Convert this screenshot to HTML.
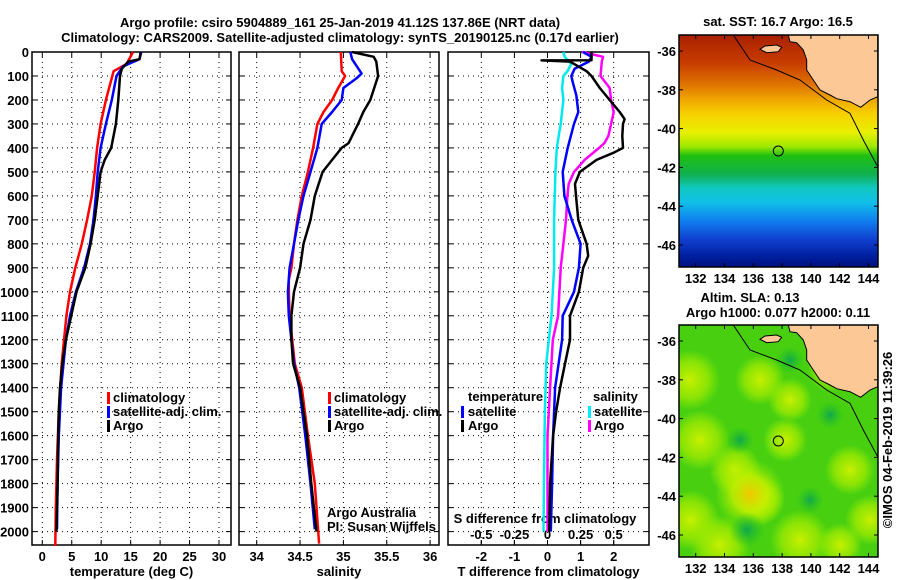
<!DOCTYPE html>
<html><head><meta charset="utf-8"><style>
html,body{margin:0;padding:0;background:#fff;}
svg{display:block;font-family:"Liberation Sans",sans-serif;}
.b{font-weight:bold;font-size:13px;}
</style></head><body>
<svg id="chart" width="900" height="580" viewBox="0 0 900 580">
<defs>
<linearGradient id="sstg" x1="0" y1="0" x2="0" y2="1">
<stop offset="0" stop-color="#a82000"/><stop offset="0.12" stop-color="#c83c00"/>
<stop offset="0.22" stop-color="#e07800"/><stop offset="0.28" stop-color="#f0a800"/>
<stop offset="0.34" stop-color="#f8d000"/><stop offset="0.42" stop-color="#e8f000"/>
<stop offset="0.48" stop-color="#a0e800"/><stop offset="0.52" stop-color="#20c010"/>
<stop offset="0.6" stop-color="#10b050"/><stop offset="0.66" stop-color="#10c8c0"/>
<stop offset="0.72" stop-color="#10c0e8"/><stop offset="0.8" stop-color="#1080f0"/>
<stop offset="0.88" stop-color="#1040d0"/><stop offset="0.95" stop-color="#0020a0"/>
<stop offset="1" stop-color="#001080"/></linearGradient>
<radialGradient id="yb"><stop offset="0" stop-color="#f0c800"/><stop offset="0.5" stop-color="#c8f000" stop-opacity="0.8"/><stop offset="1" stop-color="#a0f000" stop-opacity="0"/></radialGradient>
<radialGradient id="yb2"><stop offset="0" stop-color="#c8f000"/><stop offset="0.6" stop-color="#a8ec00" stop-opacity="0.7"/><stop offset="1" stop-color="#a0f000" stop-opacity="0"/></radialGradient>
<radialGradient id="gb"><stop offset="0" stop-color="#10a850"/><stop offset="1" stop-color="#20c020" stop-opacity="0"/></radialGradient>
</defs>
<text class="b" x="340" y="27" text-anchor="middle" font-size="14">Argo profile: csiro 5904889_161 25-Jan-2019 41.12S 137.86E (NRT data)</text>
<text class="b" x="340" y="42" text-anchor="middle" font-size="14">Climatology: CARS2009. Satellite-adjusted climatology: synTS_20190125.nc (0.17d earlier)</text>
<g id="panels"></g>
<g id="maps"></g>
</svg>
<script>
// ---- data ----
const depthTa=[0,30,40,70,100,200,300,400,450,500,600,700,800,900,1000,1100,1200,1300,1400,1500,1600,1800,2000];
const tempArgo=[16.7,16.5,14.6,13.5,13.2,12.9,12.5,11.7,10.6,9.9,9.4,8.9,8.2,7.3,5.8,4.9,4.0,3.4,3.0,2.8,2.7,2.6,2.4];
const depthTc=[0,50,80,200,300,400,500,600,700,800,900,1000,1100,1300,1500,1700,1900,2060];
const tempClim=[15.4,14.3,12.1,10.8,9.9,9.3,8.9,8.4,7.6,6.7,5.6,4.7,4.1,3.3,2.8,2.5,2.3,2.2];
const depthTs=[0,30,60,100,200,300,400,500,600,700,800,900,1000,1100,1200,1400,1600,1800,1990];
const tempSat=[16.8,16.5,13.7,12.6,11.8,10.8,9.9,9.4,9.1,8.7,8.1,7.1,5.7,4.7,4.0,3.2,2.8,2.6,2.5];
const depthSa=[0,20,40,100,200,250,300,350,380,400,450,500,600,700,800,900,1000,1100,1200,1300,1400,1600,1800,2000];
const salArgo=[35.1,35.35,35.38,35.4,35.31,35.23,35.17,35.1,35.06,34.98,34.87,34.76,34.67,34.62,34.54,34.5,34.43,34.4,34.4,34.42,34.5,34.58,34.63,34.69];
const depthSc=[0,80,100,150,200,250,300,400,500,600,700,800,900,950,1000,1100,1200,1300,1400,1600,1800,2050];
const salClim=[34.97,34.98,35.02,34.94,34.87,34.77,34.7,34.65,34.59,34.52,34.47,34.43,34.4,34.37,34.37,34.38,34.41,34.44,34.52,34.59,34.67,34.72];
const depthSs=[0,30,90,110,150,200,250,300,400,500,600,700,800,900,1000,1100,1200,1300,1400,1600,1800,1990];
const salSat=[35.08,35.1,35.21,35.15,35.0,34.98,34.87,34.75,34.7,34.62,34.54,34.48,34.43,34.38,34.36,34.37,34.4,34.43,34.49,34.56,34.62,34.67];
const depthDa=[0,34,35,40,80,100,150,200,250,280,300,350,400,420,450,500,550,600,700,800,850,900,1000,1100,1200,1300,1400,1500,1600,1800,2000];
const tdiffArgo=[1.33,1.33,-0.18,0.68,1.18,1.33,1.58,1.88,2.18,2.33,2.28,2.26,2.28,2.0,1.48,0.98,0.83,0.86,0.93,1.18,1.23,1.08,0.95,0.68,0.68,0.53,0.38,0.26,0.17,0.08,0.05];
const depthDs=[0,20,40,70,100,130,180,250,300,400,500,600,700,800,900,1000,1100,1200,1400,1600,1800,2000];
const tdiffSat=[1.07,1.33,1.25,0.82,0.72,0.77,0.87,0.93,0.8,0.61,0.46,0.51,0.73,1.0,0.95,0.8,0.46,0.44,0.23,0.17,0.14,0.1];
const depthSd=[0,20,50,80,100,150,200,300,400,500,700,900,1100,1300,1500,1700,2000];
const sdiffSat=[0.12,0.13,0.18,0.15,0.12,0.11,0.12,0.1,0.07,0.06,0.05,0.05,0.03,-0.01,-0.02,-0.025,-0.03];
const depthSm=[0,20,40,100,150,200,250,300,350,380,400,450,500,550,600,700,800,900,1000,1100,1200,1400,1600,1800,2000];
const sdiffArgo=[0.26,0.42,0.41,0.4,0.47,0.48,0.5,0.48,0.46,0.43,0.39,0.28,0.2,0.16,0.15,0.14,0.12,0.1,0.09,0.08,0.04,0.02,0.0,0.0,0.0];
const depthTicks=[0,100,200,300,400,500,600,700,800,900,1000,1100,1200,1300,1400,1500,1600,1700,1800,1900,2000];
const tempTicks=[0,5,10,15,20,25,30];
const salTicks=[34,34.5,35,35.5,36];
const tdTicks=[-2,-1,0,1,2];
const sdTicks=[-0.5,-0.25,0,0.25,0.5];
const latTicks=[-36,-38,-40,-42,-44,-46];
const lonTicks=[132,134,136,138,140,142,144];

const NS='http://www.w3.org/2000/svg';
function mk(tag,attrs,parent){const e=document.createElementNS(NS,tag);for(const k in attrs)e.setAttribute(k,attrs[k]);parent.appendChild(e);return e;}
const top0=52,bot=545;
const yD=d=>top0+d*0.2398;
const xT=t=>42.3+t*5.89;
const xS=s=>256.7+(s-34)*86.7;
const xTD=t=>547.5+t*33.1;
const xSD=s=>547.5+s*132.4;
const P=document.getElementById('panels');

function panel(name,x0,x1,ticks,fx,labels,title){
  const g=mk('g',{},P);
  
  
  ticks.forEach(t=>{const l=mk('line',{x1:fx(t),x2:fx(t),y1:top0,y2:bot,stroke:'#000','stroke-width':1,'stroke-dasharray':'1,4'},g);
    
    mk('line',{x1:fx(t),x2:fx(t),y1:top0,y2:top0+5,stroke:'#000'},g);mk('line',{x1:fx(t),x2:fx(t),y1:bot,y2:bot-5,stroke:'#000'},g);});
  depthTicks.forEach(d=>{const l=mk('line',{x1:x0,x2:x1,y1:yD(d),y2:yD(d),stroke:'#000','stroke-width':1,'stroke-dasharray':'1,4'},g);
    
    mk('line',{x1:x0,x2:x0+5,y1:yD(d),y2:yD(d),stroke:'#000'},g);mk('line',{x1:x1,x2:x1-5,y1:yD(d),y2:yD(d),stroke:'#000'},g);});
  const r=mk('rect',{x:x0,y:top0,width:x1-x0,height:bot-top0,fill:'none',stroke:'#000','stroke-width':1.5},g);
  
  if(labels){ticks.forEach(t=>{const tx=mk('text',{x:fx(t),y:561,'text-anchor':'middle',class:'b'},g);tx.textContent=String(t);
    });}
  const tt=mk('text',{x:(x0+x1)/2,y:576,'text-anchor':'middle',class:'b'},g);tt.textContent=title;
  
  return g;
}
function line(g,ds,vs,fx,col,name,w){
  const pts=ds.map((d,i)=>fx(vs[i]).toFixed(1)+','+yD(d).toFixed(1)).join(' ');
  const p=mk('polyline',{points:pts,fill:'none',stroke:col,'stroke-width':w||2.5,'stroke-linejoin':'round'},g);
  
  
}
function txt(g,x,y,s,cls,name,anchor){const t=mk('text',{x:x,y:y,class:cls||'b','text-anchor':anchor||'start'},g);t.textContent=s;
  return t;}
function legbar(g,x,y,col){mk('rect',{x:x,y:y-10,width:3,height:12,fill:col},g);}

const yl=mk('g',{},P);


depthTicks.forEach(d=>txt(yl,29,yD(d)+5,String(d),'b','y-tick-label','end'));

const g1=panel('temperature-panel',32,231,tempTicks,xT,true,'temperature (deg C)');
line(g1,depthTc,tempClim,xT,'#ff0000','temp-climatology-line');
line(g1,depthTs,tempSat,xT,'#0000ff','temp-satellite-line');
line(g1,depthTa,tempArgo,xT,'#000','temp-argo-line');
[['climatology','#f00',402],['satellite-adj. clim.','#00f',416],['Argo','#000',430]].forEach(a=>{legbar(g1,107,a[2],a[1]);txt(g1,113,a[2],a[0],'b','legend-entry');});

const g2=panel('salinity-panel',239,439,salTicks,xS,true,'salinity');
line(g2,depthSc,salClim,xS,'#ff0000','sal-climatology-line');
line(g2,depthSs,salSat,xS,'#0000ff','sal-satellite-line');
line(g2,depthSa,salArgo,xS,'#000','sal-argo-line');
[['climatology','#f00',402],['satellite-adj. clim.','#00f',416],['Argo','#000',430]].forEach(a=>{legbar(g2,328,a[2],a[1]);txt(g2,334,a[2],a[0],'b','legend-entry');});
const c1=txt(g2,327,517,'Argo Australia','','credit-text');c1.setAttribute('font-size','12');
const c2=txt(g2,327,531,'PI: Susan Wijffels','','credit-text');c2.setAttribute('font-size','12');

const g3=panel('difference-panel',448,649,tdTicks,xTD,true,'T difference from climatology');
sdTicks.forEach(s=>{mk('line',{x1:xSD(s),x2:xSD(s),y1:bot,y2:bot-5,stroke:'#000'},g3);txt(g3,xSD(s),539,String(s),'b','s-tick-label','middle');});
txt(g3,545,523,'S difference from climatology','b','s-axis-title','middle');
line(g3,depthSd,sdiffSat,xSD,'#00e8f0','sdiff-satellite-line');
line(g3,depthSm,sdiffArgo,xSD,'#ff00ff','sdiff-argo-line');
line(g3,depthDs,tdiffSat,xTD,'#0000ff','tdiff-satellite-line');
line(g3,depthDa,tdiffArgo,xTD,'#000','tdiff-argo-line');
txt(g3,468,401,'temperature','b','legend-heading');
legbar(g3,461,416,'#00f');txt(g3,468,416,'satellite','b','legend-entry');
legbar(g3,461,430,'#000');txt(g3,468,430,'Argo','b','legend-entry');
txt(g3,593,401,'salinity','b','legend-heading');
legbar(g3,588,416,'#0ef');txt(g3,594,416,'satellite','b','legend-entry');
legbar(g3,588,430,'#f0f');txt(g3,594,430,'Argo','b','legend-entry');

// ---- maps ----
const M=document.getElementById('maps');
const landPts=[[415,105],[420,125],[440,128],[460,150],[470,180],[470,210],[490,240],[510,270],[540,285],[560,296],[600,305],[632,322],[660,300],[683,290],[683,105]];
const islandPts=[[330,148],[345,138],[380,135],[395,142],[385,155],[350,158]];
const shelfPts=[[250,105],[300,180],[380,210],[450,240],[530,300],[600,340],[640,420],[683,500]];
function mapPanel(name,oy,y1,fill){
  const g=mk('g',{},M);
  
  
  const x0=679,x1=878,y0=35+oy;
  const cp='clip'+oy;
  const c=mk('clipPath',{id:cp},g);mk('rect',{x:x0,y:y0,width:x1-x0,height:y1-y0},c);
  const inner=mk('g',{'clip-path':'url(#'+cp+')'},g);
  fill(inner,x0,y0,x1,y1);
  const tp=a=>a.map(p=>(650+p[0]/3).toFixed(1)+','+(p[1]/3+oy).toFixed(1)).join(' ');
  mk('polyline',{points:tp(shelfPts),fill:'none',stroke:'#000','stroke-width':1},inner);
  const land=mk('polygon',{points:tp(landPts),fill:'#fcc896',stroke:'#000','stroke-width':1},inner);
  
  mk('polygon',{points:tp(islandPts),fill:'#fcc896',stroke:'#000','stroke-width':1},inner);
  mk('circle',{cx:778.3,cy:151+oy,r:5,fill:'none',stroke:'#000','stroke-width':1},inner);
  mk('rect',{x:x0,y:y0,width:x1-x0,height:y1-y0,fill:'none',stroke:'#000','stroke-width':1.5},g);
  const lx=lo=>695.7+(lo-132)*14.4, ly=la=>51+oy+(-36-la)*19.4;
  latTicks.forEach(la=>{mk('line',{x1:x0,x2:x0+4,y1:ly(la),y2:ly(la),stroke:'#000'},g);mk('line',{x1:x1,x2:x1-4,y1:ly(la),y2:ly(la),stroke:'#000'},g);
    txt(g,676,ly(la)+5,String(la),'b','lat-tick-label','end');});
  lonTicks.forEach(lo=>{mk('line',{x1:lx(lo),x2:lx(lo),y1:y1,y2:y1-4,stroke:'#000'},g);mk('line',{x1:lx(lo),x2:lx(lo),y1:y0,y2:y0+4,stroke:'#000'},g);
    txt(g,lx(lo),y1+16,String(lo),'b','lon-tick-label','middle');});
}
mapPanel('sst-map',0,267,(g,x0,y0,x1,y1)=>{mk('rect',{x:x0,y:y0,width:x1-x0,height:y1-y0,fill:'url(#sstg)'},g);});
mapPanel('sla-map',290,557,(g,x0,y0,x1,y1)=>{mk('rect',{x:x0,y:y0,width:x1-x0,height:y1-y0,fill:'#48d010'},g);
  [[690,380,30,'yb2'],[700,440,30,'yb2'],[690,520,30,'yb2'],[760,380,25,'yb2'],[790,400,22,'yb2'],[785,440,22,'yb2'],[735,470,26,'yb2'],[720,545,30,'yb2'],[800,540,30,'yb2'],[850,470,25,'yb2'],[870,520,25,'yb2'],[830,370,22,'yb2'],[760,500,25,'yb2'],[840,545,22,'yb2']].forEach(b=>mk('circle',{cx:b[0],cy:b[1],r:b[2],fill:'url(#'+b[3]+')'},g));
  mk('circle',{cx:750,cy:494,r:35,fill:'url(#yb)'},g);
  [[747,530,18],[830,415,14],[740,440,14],[810,500,14],[790,360,14]].forEach(b=>mk('circle',{cx:b[0],cy:b[1],r:b[2],fill:'url(#gb)'},g));});
txt(M,778,26,'sat. SST: 16.7 Argo: 16.5','b','sst-map-title','middle');
txt(M,750,302,'Altim. SLA: 0.13','b','sla-map-title','middle');
txt(M,778,317,'Argo h1000: 0.077 h2000: 0.11','b','argo-height-title','middle');
const cr=txt(M,0,0,'©IMOS 04-Feb-2019 11:39:26','','timestamp','middle');
cr.setAttribute('font-size','13');
cr.setAttribute('transform','translate(892,440) rotate(-90)');
</script>
</body></html>
